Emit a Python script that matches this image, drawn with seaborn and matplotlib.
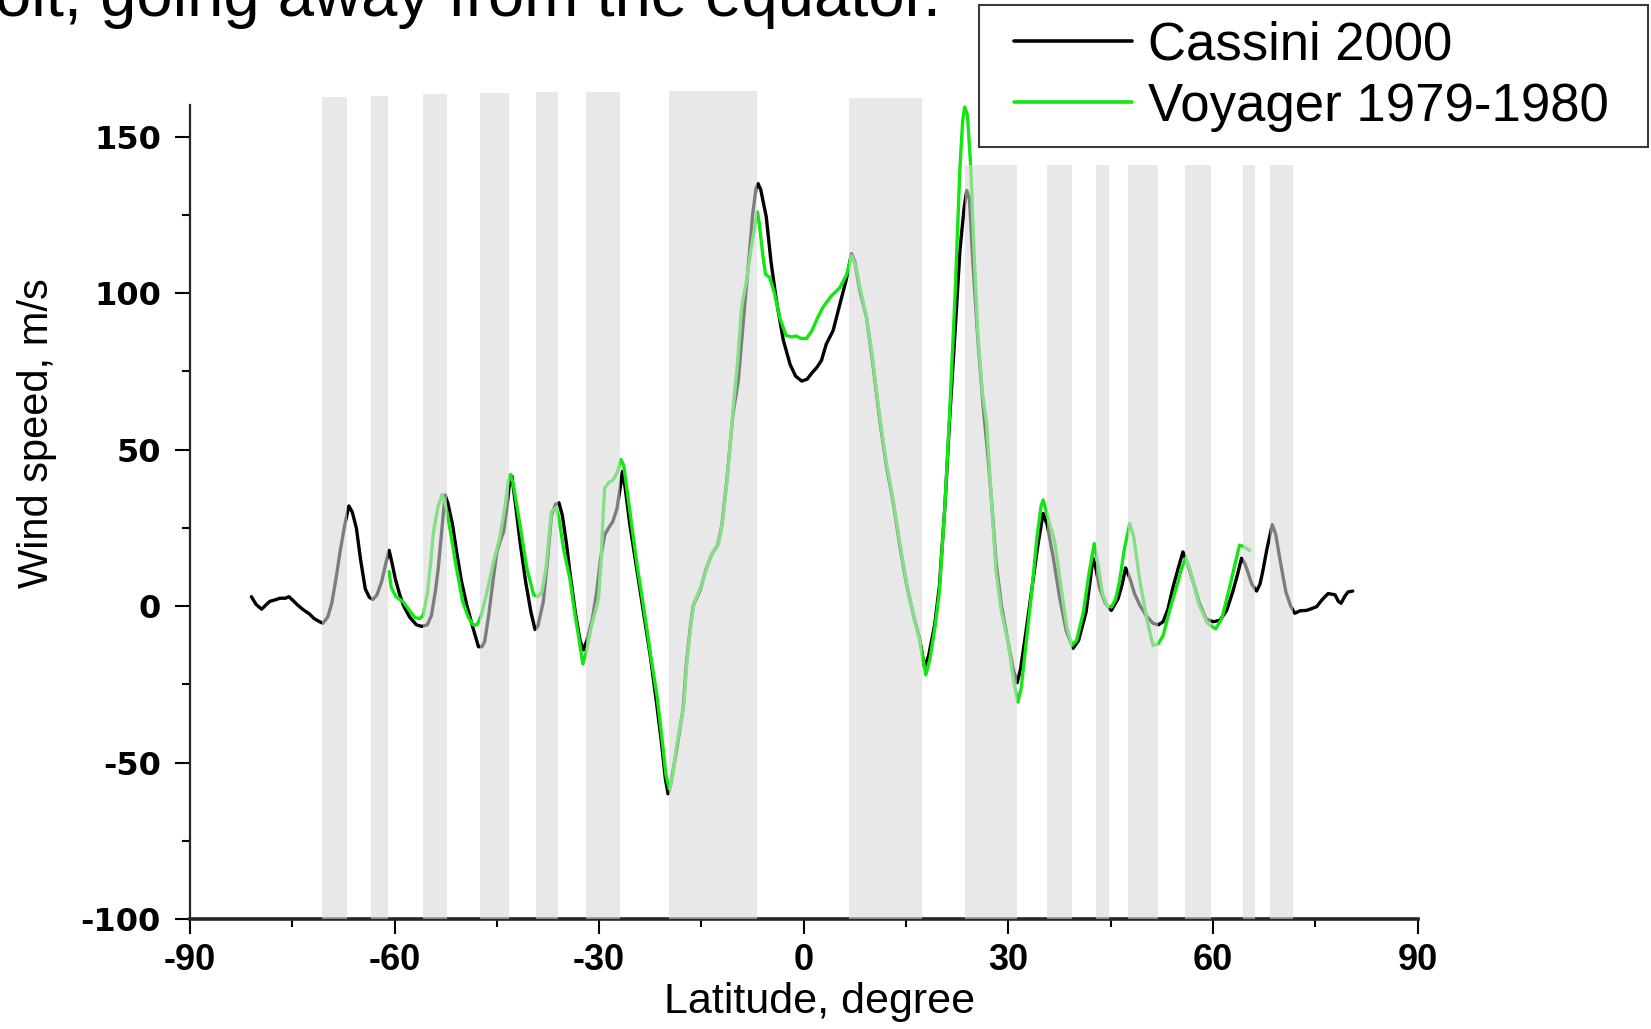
import matplotlib
matplotlib.use("Agg")
import matplotlib.pyplot as plt
import matplotlib.patches as mpatches
from matplotlib.ticker import MultipleLocator
import seaborn as sns

# Cassini 2000 profile (latitude, m/s)
cassini_lat = [-81.0, -80.3, -79.5, -78.8, -78.3, -77.5, -76.8, -76.0, -75.5, -75.0,
               -74.3, -73.5, -72.5, -71.8, -71.0, -70.5, -69.8, -69.2, -68.5, -68.0,
               -67.3, -66.7, -66.2, -65.6, -65.0, -64.3, -63.7, -63.2, -62.6, -61.9,
               -61.2, -60.8, -60.4, -59.9, -59.3, -58.7, -57.8, -56.8, -56.0, -55.2,
               -54.6, -54.0, -53.6, -53.0, -52.6, -52.2, -51.5, -50.9, -50.2, -49.4,
               -48.5, -47.7, -47.2, -46.8, -46.2, -45.6, -45.0, -44.4, -44.0, -43.5,
               -43.1, -42.8, -42.3, -41.6, -40.8, -40.0, -39.4, -39.0, -38.2, -37.6,
               -37.0, -36.4, -35.9, -35.4, -34.8, -34.3, -33.5, -32.8, -32.3, -31.8,
               -31.0, -30.4, -29.8, -29.2, -28.6, -28.0, -27.4, -26.9, -26.6, -26.2,
               -25.5, -24.5, -23.5, -22.5, -21.6, -20.9, -20.3, -19.9, -19.5, -18.8,
               -17.7, -17.2, -16.6, -16.2, -15.2, -14.3, -13.5, -12.6, -12.0, -11.3,
               -10.4, -9.6, -8.6, -8.0, -7.5, -7.0, -6.7, -6.3, -5.5, -4.8,
               -4.0, -3.0, -2.0, -1.2, -0.3, 0.5, 1.2, 1.9, 2.6, 3.3,
               4.3, 5.3, 6.2, 7.0, 7.5, 8.2, 9.2, 10.1, 11.1, 12.1,
               13.1, 14.1, 15.1, 16.1, 17.0, 17.7, 18.3, 19.2, 19.9, 20.7,
               21.4, 22.2, 22.9, 23.5, 23.9, 24.3, 24.8, 25.5, 26.3, 27.0,
               27.6, 28.2, 29.0, 30.0, 30.7, 31.3, 31.8, 32.6, 33.6, 34.3,
               35.1, 35.7, 36.6, 37.5, 38.5, 39.5, 40.3, 41.4, 42.0, 42.4,
               42.8, 43.4, 44.2, 45.1, 46.1, 46.7, 47.2, 47.8, 48.5, 49.3,
               50.2, 51.2, 52.0, 52.7, 53.4, 54.1, 54.9, 55.6, 56.2, 57.1,
               58.0, 59.0, 60.0, 61.0, 62.0, 62.9, 63.6, 64.2, 64.7, 65.1,
               65.7, 66.4, 66.9, 67.3, 67.9, 68.7, 69.2, 69.8, 70.7, 71.4,
               72.0, 72.8, 73.7, 74.5, 75.2, 76.0, 76.9, 77.4, 77.9, 78.4,
               78.8, 79.3, 79.8, 80.5]
cassini_speed = [3.0, 0.5, -1.0, 0.5, 1.5, 2.0, 2.5, 2.5, 3.0, 2.0,
                 0.5, -1.0, -2.5, -4.0, -5.0, -5.5, -3.5, 1.0, 10.0, 17.3,
                 26.0, 32.0, 30.0, 24.9, 15.0, 5.5, 2.8, 2.1, 3.5, 7.8,
                 14.5, 17.8, 14.0, 8.8, 4.0, 0.2, -3.5, -6.0, -6.5, -6.0,
                 -3.0, 5.0, 12.0, 26.0, 35.5, 33.0, 26.0, 17.3, 8.0, 0.2,
                 -7.0, -13.0, -13.0, -11.4, -3.0, 7.5, 17.3, 21.5, 23.8, 32.0,
                 40.4, 41.5, 33.0, 20.5, 8.0, -2.0, -7.5, -6.5, 1.3, 14.0,
                 29.0, 32.5, 33.0, 29.0, 20.0, 11.0, -2.0, -11.0, -14.0, -11.0,
                 -4.0, 4.0, 15.0, 22.7, 25.0, 27.0, 31.0, 38.0, 43.0, 38.0,
                 26.0, 12.0, -2.0, -16.0, -30.7, -43.0, -55.0, -60.0, -57.0, -48.0,
                 -33.0, -18.0, -6.0, 0.2, 5.0, 12.0, 16.5, 19.6, 26.0, 39.8,
                 61.0, 72.0, 97.5, 112.0, 125.0, 133.5, 135.0, 133.0, 124.4, 110.0,
                 97.5, 85.0, 77.2, 73.5, 71.9, 72.5, 74.5, 76.2, 78.5, 83.7,
                 88.0, 96.5, 104.0, 112.6, 110.0, 101.0, 92.2, 78.0, 60.1, 45.0,
                 33.4, 19.0, 6.6, -3.0, -10.5, -19.5, -16.0, -6.0, 6.6, 32.0,
                 60.0, 88.0, 113.6, 127.0, 132.8, 130.0, 110.0, 86.0, 64.0, 48.0,
                 32.0, 14.0, 0.0, -12.0, -20.0, -24.5, -20.0, -8.0, 7.8, 19.0,
                 29.6, 26.0, 15.3, 3.0, -8.0, -13.5, -11.0, -1.9, 8.0, 15.3,
                 12.5, 5.6, 1.0, -1.4, 2.4, 7.0, 12.2, 9.0, 4.0, 0.2,
                 -3.0, -5.5, -6.0, -5.0, -1.0, 5.6, 12.0, 17.3, 14.0, 7.8,
                 1.0, -4.1, -5.0, -4.6, -1.5, 4.5, 10.0, 15.3, 13.5, 11.0,
                 7.0, 4.8, 7.0, 11.0, 18.0, 26.0, 23.0, 15.3, 4.5, 0.0,
                 -2.3, -1.5, -1.4, -0.8, -0.2, 2.0, 4.0, 3.8, 3.6, 1.5,
                 0.9, 3.0, 4.5, 4.8]

# Voyager 1979-1980 profile (latitude, m/s)
voyager_lat = [-60.8, -60.5, -59.8, -58.7, -57.8, -57.0, -56.3, -55.8, -55.2, -54.7,
               -54.3, -53.6, -53.0, -52.5, -51.9, -51.0, -50.0, -49.2, -48.5, -47.9,
               -47.3, -46.5, -45.5, -44.6, -43.8, -43.3, -43.0, -42.6, -41.6, -40.6,
               -39.6, -39.0, -38.4, -37.8, -37.0, -36.3, -35.9, -35.2, -34.3, -33.6,
               -33.0, -32.4, -31.8, -31.2, -30.6, -30.1, -29.7, -29.4, -29.2, -28.6,
               -27.9, -27.3, -26.8, -26.4, -25.6, -24.5, -23.5, -22.5, -21.5, -20.8,
               -20.2, -19.7, -19.2, -18.6, -17.6, -17.1, -16.5, -16.1, -15.1, -14.2,
               -13.4, -12.5, -11.9, -11.2, -10.4, -9.7, -9.2, -9.0, -8.4, -7.8,
               -7.2, -6.8, -6.5, -6.0, -5.6, -5.0, -4.3, -3.5, -2.6, -1.8,
               -1.1, -0.4, 0.4, 1.2, 2.0, 2.8, 4.0, 5.3, 6.3, 7.0,
               7.6, 8.3, 9.2, 10.1, 11.1, 12.1, 13.1, 14.1, 15.1, 16.1,
               17.0, 17.9, 18.5, 19.3, 19.9, 20.7, 21.4, 22.2, 22.9, 23.3,
               23.6, 24.0, 24.5, 25.0, 25.5, 26.2, 26.8, 27.5, 28.2, 29.0,
               30.0, 30.8, 31.4, 31.9, 32.6, 33.4, 34.2, 34.8, 35.1, 35.6,
               36.8, 37.8, 38.6, 39.3, 40.0, 41.0, 41.8, 42.6, 43.1, 43.8,
               44.5, 45.1, 45.7, 46.3, 47.0, 47.8, 48.4, 49.3, 50.3, 51.2,
               52.0, 52.7, 53.7, 54.6, 55.4, 56.0, 56.6, 58.0, 59.2, 60.4,
               61.3, 62.4, 63.2, 63.9, 64.5, 65.4]
voyager_speed = [11.0, 6.0, 3.0, 1.3, -1.5, -3.7, -4.0, -2.9, 4.0, 14.0,
                 23.8, 32.0, 35.7, 32.0, 24.8, 13.0, 1.3, -3.5, -6.0, -6.0,
                 -3.0, 4.0, 14.0, 21.6, 32.0, 40.0, 42.1, 39.0, 25.9, 12.0,
                 3.6, 3.0, 4.5, 12.0, 30.2, 31.5, 28.0, 18.0, 8.8, -2.0,
                 -10.0, -18.5, -14.0, -7.0, -2.0, 2.4, 15.0, 30.0, 37.6, 39.5,
                 40.4, 43.0, 46.8, 45.0, 32.0, 14.0, 0.0, -15.0, -29.0, -42.0,
                 -54.0, -58.5, -54.0, -44.0, -32.0, -17.0, -5.0, 1.0, 6.0, 12.5,
                 17.0, 20.0, 27.0, 41.0, 62.0, 78.0, 93.0, 97.0, 104.0, 113.0,
                 121.0, 126.0, 122.0, 112.0, 106.0, 105.0, 100.0, 92.0, 86.5, 86.0,
                 86.3, 85.5, 85.5, 88.0, 92.0, 95.4, 99.0, 101.8, 106.0, 112.0,
                 109.0, 101.0, 92.5, 79.0, 61.0, 46.0, 34.0, 20.0, 7.0, -3.0,
                 -11.0, -22.0, -17.0, -6.0, 5.0, 32.0, 62.0, 100.0, 140.0, 155.0,
                 159.5, 157.0, 140.0, 112.0, 88.0, 68.0, 58.8, 35.0, 11.0, -2.0,
                 -12.0, -24.0, -30.7, -26.0, -12.0, 4.0, 22.0, 32.0, 33.9, 30.0,
                 20.5, 5.0, -7.0, -12.6, -11.0, -2.0, 10.0, 20.0, 14.0, 4.0,
                 0.0, -0.3, 2.0, 7.8, 18.0, 26.4, 22.0, 7.8, -4.0, -12.6,
                 -12.0, -9.4, -1.0, 5.6, 12.0, 15.3, 12.0, 0.2, -5.5, -7.3,
                 -4.0, 5.6, 13.0, 19.5, 19.0, 17.8]

# shaded latitude bands
band_start = [-70.7, -63.4, -55.9, -47.5, -39.2, -32.0, -19.8, 6.6, 23.6, 35.7, 42.8, 47.5, 55.9, 64.4, 68.4]
band_end = [-67.0, -61.0, -52.3, -43.2, -36.1, -27.0, -6.9, 17.3, 31.3, 39.4, 44.8, 52.0, 59.7, 66.1, 71.8]
band_top = [162.8, 163.1, 163.5, 163.8, 164.2, 164.2, 164.5, 162.5, 140.9, 140.9, 140.9, 140.9, 140.9, 140.9, 140.9]

sns.set_style("ticks")
plt.rcParams["font.family"] = ["Liberation Sans", "DejaVu Sans"]
plt.rcParams["text.color"] = "black"
plt.rcParams["axes.labelcolor"] = "black"
plt.rcParams["axes.unicode_minus"] = False

W, H = 1651, 1029
fig = plt.figure(figsize=(W / 100, H / 100), dpi=100)
ax = fig.add_axes([190 / W, 1 - 919 / H, 1227.5 / W, 832.4 / H])

green = "#14e614"
sns.lineplot(x=cassini_lat, y=cassini_speed, ax=ax, color="black", lw=2.4, zorder=2)
sns.lineplot(x=voyager_lat, y=voyager_speed, ax=ax, color=green, lw=2.4, zorder=2.1)

# bands sit above the curves, semi-transparent, so lines look paler inside them
widths = [e - s for s, e in zip(band_start, band_end)]
heights = [t + 100 for t in band_top]
ax.bar(band_start, heights, width=widths, bottom=-100, align="edge",
       color="#d9d9d9", alpha=0.58, lw=0, zorder=3)

ax.set_xlim(-90, 90)
ax.set_ylim(-100, 166)
ax.xaxis.set_major_locator(MultipleLocator(30))
ax.xaxis.set_minor_locator(MultipleLocator(15))
ax.yaxis.set_major_locator(MultipleLocator(50))
ax.yaxis.set_minor_locator(MultipleLocator(25))
ax.set_yticks([-100, -50, 0, 50, 100, 150])

sns.despine(ax=ax)
ax.spines["left"].set_bounds(-100, 160)
ax.spines["left"].set_linewidth(1.6)
ax.spines["bottom"].set_linewidth(2.6)
ax.tick_params(which="major", direction="out", length=11, width=1.5, pad=6, colors="black")
ax.tick_params(axis="y", which="major", pad=10)
ax.tick_params(which="minor", direction="out", length=6, width=1.5, colors="black")

for lab in ax.get_xticklabels():
    lab.set_fontfamily(["Liberation Sans Narrow", "Liberation Sans"])
    lab.set_fontweight("bold")
    lab.set_fontsize(26)
for lab in ax.get_yticklabels():
    lab.set_fontfamily(["DejaVu Sans"])
    lab.set_fontweight("bold")
    lab.set_fontsize(23)

ax.set_xlabel("Latitude, degree", fontsize=31)
ax.set_ylabel("Wind speed, m/s", fontsize=30)
ax.xaxis.set_label_coords(0.513, -0.076)
ax.yaxis.set_label_coords(-0.125, 0.584)
ax.yaxis.label.set_va("center")

if ax.get_legend() is not None:
    ax.get_legend().remove()

# legend box
box = mpatches.Rectangle((979 / W, 1 - 147 / H), 669 / W, 142 / H, transform=fig.transFigure,
                         facecolor="white", edgecolor="#3a3a3a", lw=1.5, zorder=5)
fig.add_artist(box)
handles = [plt.Line2D([], [], color="black", lw=2.6), plt.Line2D([], [], color=green, lw=2.6)]
leg = fig.legend(handles, ["Cassini 2000", "Voyager 1979-1980"], loc="center left",
                 bbox_to_anchor=(1014 / W, 1 - 76 / H), frameon=False, fontsize=38,
                 handlelength=2.24, handletextpad=0.3, borderpad=0, borderaxespad=0,
                 labelspacing=0.22)
leg.set_zorder(6)

fig.text(-0.003, 1 - 16 / H, "olt, going away from the equator.", fontsize=47,
         ha="left", va="baseline")

fig.savefig("out.png", dpi=100)
